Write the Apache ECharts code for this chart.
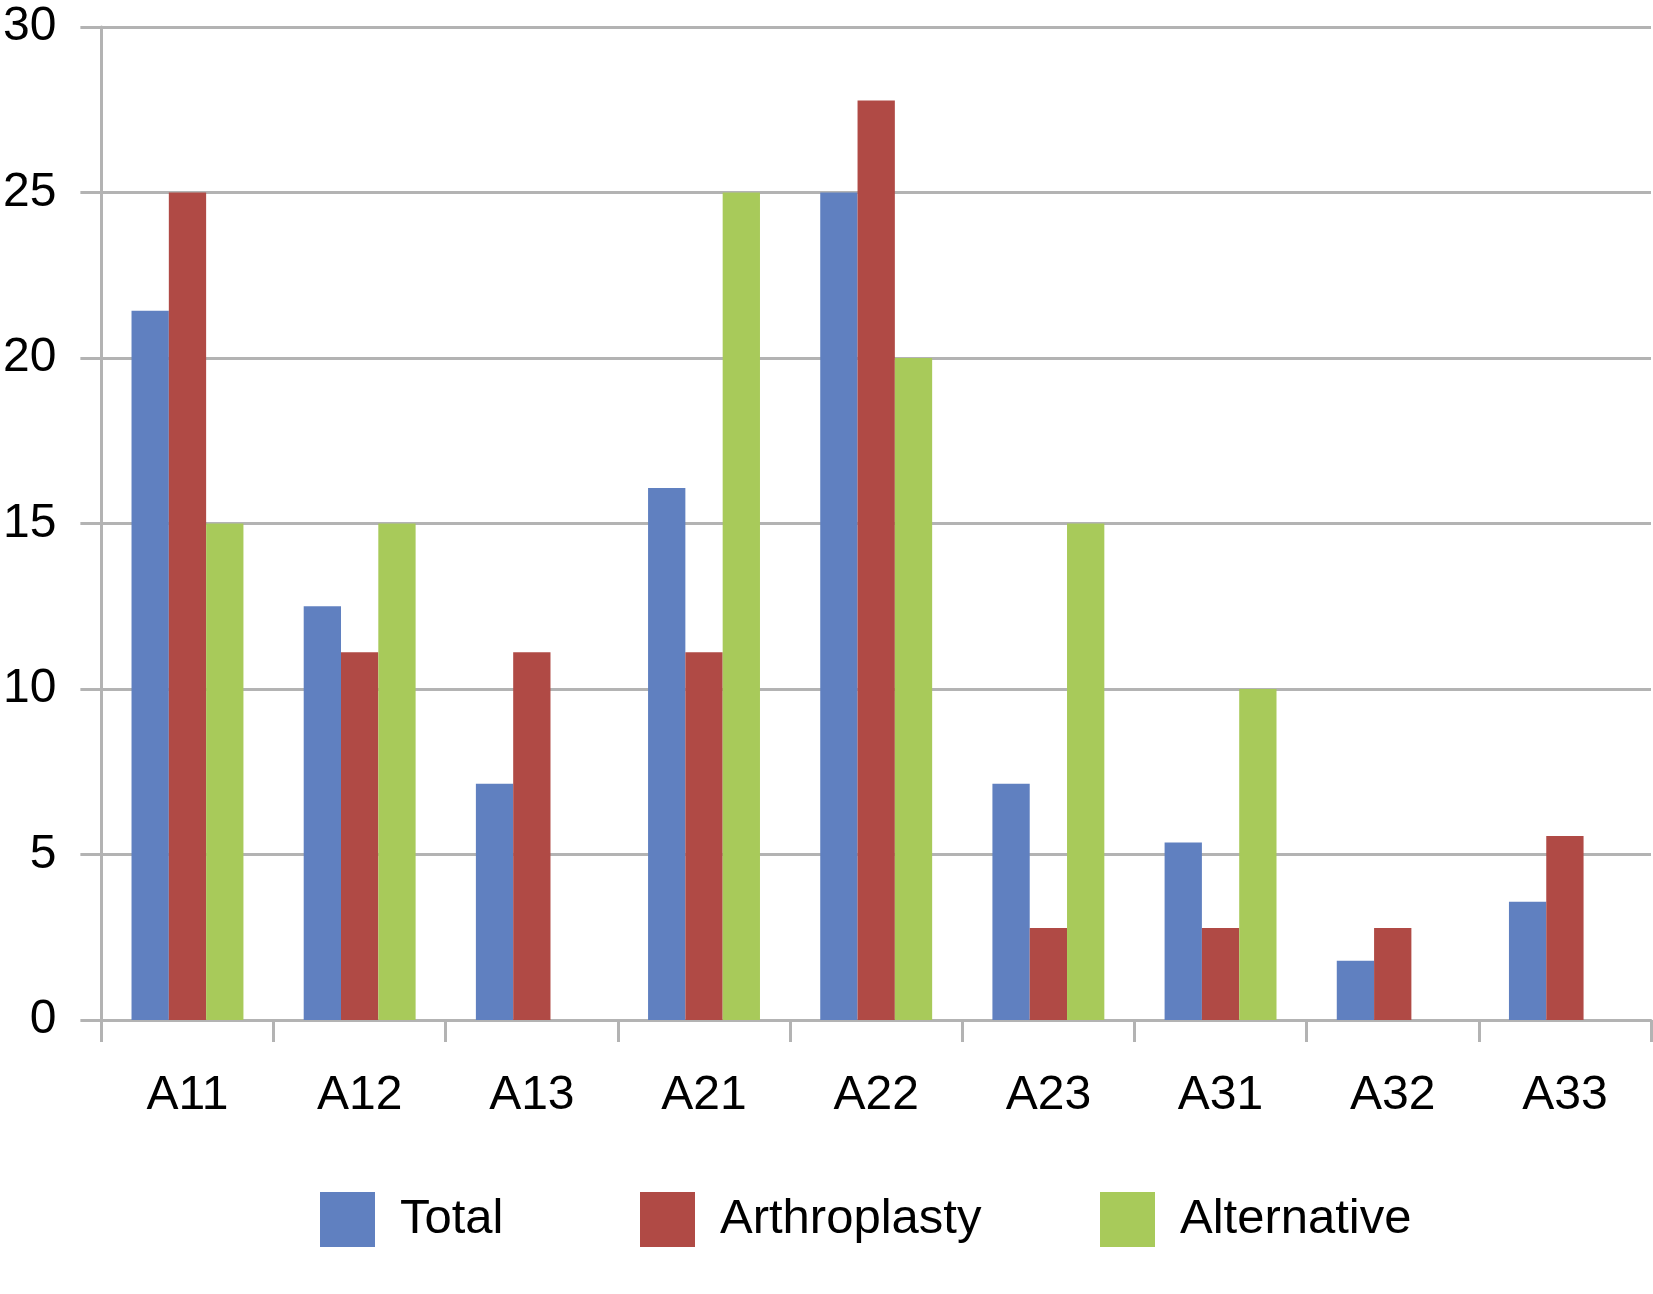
<!DOCTYPE html>
<html>
<head>
<meta charset="utf-8">
<script src="https://cdn.jsdelivr.net/npm/echarts@6/dist/echarts.min.js"></script>
<style>
html,body{margin:0;padding:0;background:#fff;}
#chart{width:1653px;height:1294px;}
</style>
</head>
<body>
<div id="chart"></div>
<script>
const categories = ['A11','A12','A13','A21','A22','A23','A31','A32','A33'];
const seriesNames = ['Total','Arthroplasty','Alternative'];
const totalValues = [21.43, 12.5, 7.14, 16.07, 25.0, 7.14, 5.36, 1.79, 3.57];
const arthroplastyValues = [25.0, 11.11, 11.11, 11.11, 27.78, 2.78, 2.78, 2.78, 5.56];
const alternativeValues = [15, 15, 0, 25, 20, 15, 10, 0, 0];
const yTicks = {min: 0, max: 30, interval: 5};
const colors = ['#6080C0', '#B04A45', '#A8CA5A'];

const FONT = 'Liberation Sans, Arial, Helvetica, sans-serif';
const GRAY = '#B3B3B3';
const chart = echarts.init(document.getElementById('chart'), null, {renderer: 'canvas'});
const values = [totalValues, arthroplastyValues, alternativeValues];
const legendLefts = [315, 635, 1095];
chart.setOption({
  animation: false,
  backgroundColor: '#fff',
  color: colors,
  grid: {left: 96, right: 2, top: 27, bottom: 274, containLabel: false},
  legend: seriesNames.map((n, i) => ({
    left: legendLefts[i], top: 1187,
    itemWidth: 55, itemHeight: 55,
    icon: 'rect',
    textStyle: {fontFamily: FONT, fontSize: 49, color: '#000', padding: [0, 0, 0, 20]},
    data: [n]
  })),
  xAxis: {
    type: 'category',
    data: categories,
    axisLine: {show: true, lineStyle: {color: GRAY, width: 3}},
    axisTick: {show: true, length: 22, lineStyle: {color: GRAY, width: 3}},
    axisLabel: {fontFamily: FONT, fontSize: 48, color: '#000', margin: 52}
  },
  yAxis: {
    type: 'value',
    min: yTicks.min, max: yTicks.max, interval: yTicks.interval,
    axisLine: {show: true, lineStyle: {color: GRAY, width: 3}},
    axisTick: {show: true, length: 21, lineStyle: {color: GRAY, width: 3}},
    axisLabel: {fontFamily: FONT, fontSize: 48, color: '#000', margin: 45},
    splitLine: {show: true, lineStyle: {color: GRAY, width: 3}}
  },
  series: seriesNames.map((n, i) => ({
    name: n,
    type: 'bar',
    data: values[i],
    barGap: '0%',
    barCategoryGap: '35%',
    itemStyle: {color: colors[i]}
  }))
});
</script>
</body>
</html>
